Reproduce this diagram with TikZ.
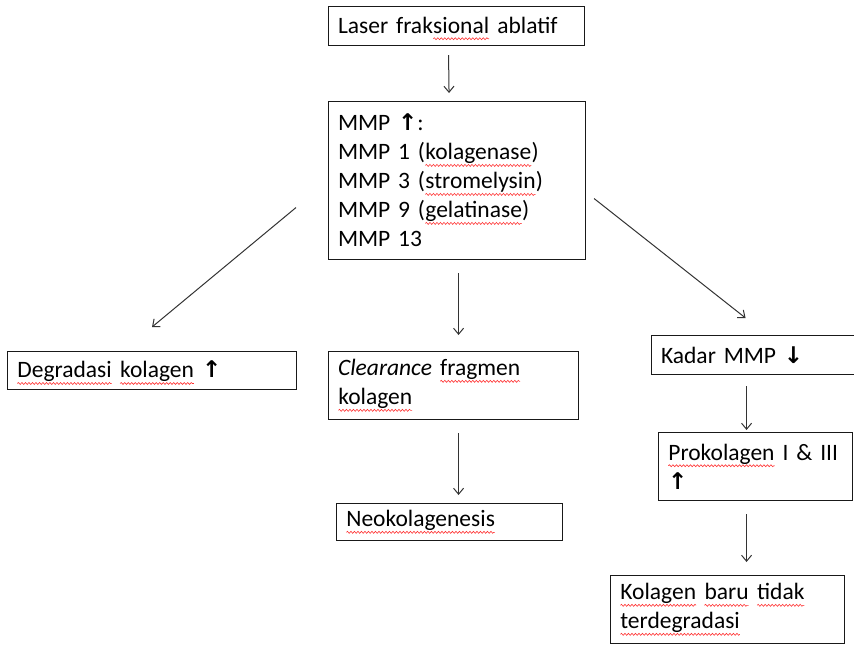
\documentclass[tikz,border=0pt]{standalone}
\usepackage{fontspec}
\setmainfont{Carlito}[WordSpace=0.85]
\newfontfamily\symfont{DejaVu Sans}
\usetikzlibrary{arrows.meta,decorations.pathmorphing}

% red wavy spell-check style underline under one word
\tikzset{
  plainword/.style={draw=none, inner sep=0pt, outer sep=0pt, minimum width=0pt,
    minimum height=0pt, text width=, align=none, anchor=base, font=},
}
\newcommand\spell[1]{\tikz[baseline=(sw.base), x=1pt, y=1pt]{%
  \node[plainword] (sw) {#1};
  \draw[red!80, line width=0.6pt, decorate,
        decoration={snake, amplitude=1pt, segment length=3.5pt}]
    ([yshift=-5.5pt]sw.base west) -- ([yshift=-5.5pt]sw.base east);}}
\newcommand\uparr{{\symfont\bfseries\fontsize{23}{29}\selectfont ↑}}
\newcommand\downarr{{\symfont\bfseries\fontsize{23}{29}\selectfont ↓}}

\tikzset{
  box/.style={draw=black!90, line width=1.1pt, anchor=north west, inner xsep=9.5pt,
    inner ysep=0pt, align=left, font=\fontsize{23.5}{29}\selectfont},
  arr/.style={draw=black!80, line width=1pt, -{Straight Barb[length=6pt,width=10pt]}},
}

\begin{document}
\begin{tikzpicture}[x=1pt,y=-1pt]
\useasboundingbox (0,0) rectangle (854,646);

\node[box, text width=237pt, minimum height=39pt, text depth=2pt] (laser) at (328,6)
  {Laser frak\spell{sional} ablatif};
\node[box, text width=238pt, minimum height=158pt] (mmp) at (328,101)
  {MMP \uparr:\\
   MMP 1 (\spell{kolagenase})\\
   MMP 3 (\spell{stromelysin})\\
   MMP 9 (\spell{gelatinase})\\
   MMP 13};
\node[box, text width=270pt, minimum height=38pt, text depth=2pt] (deg) at (7,351)
  {\spell{Degradasi} \spell{kolagen} \uparr};
\node[box, text width=231pt, minimum height=68pt] (clr) at (328,351)
  {\textit{Clearance} \spell{fragmen}\\ \spell{kolagen}};
\node[box, text width=207pt, minimum height=37pt] (neo) at (336,503)
  {\spell{Neokolagenesis}};
\node[box, text width=186pt, minimum height=39pt] (kadar) at (651,335)
  {Kadar MMP \downarr};
\node[box, text width=175pt, minimum height=68pt] (pro) at (658,432)
  {\spell{Prokolagen} I \& III\\ \uparr};
\node[box, text width=215pt, minimum height=68pt] (kol) at (610,575)
  {\spell{Kolagen} \spell{baru} \spell{tidak}\\ \spell{terdegradasi}};

\draw[arr] ([xshift=-8pt,yshift=-9pt]laser.south) -- ([xshift=-8pt,yshift=8pt]mmp.north);
\draw[arr] ([xshift=1.5pt,yshift=-13pt]mmp.south) -- ([xshift=5pt,yshift=16pt]clr.north);
\draw[arr] ([xshift=5pt,yshift=-13pt]clr.south) -- ([xshift=9pt,yshift=8pt]neo.north);
\draw[arr] ([xshift=-32pt,yshift=-27pt]mmp.west) -- ([yshift=24pt]deg.north);
\draw[arr] ([xshift=8pt,yshift=-18pt]mmp.east) -- ([xshift=-8.5pt,yshift=17pt]kadar.north);
\draw[arr] ([xshift=-7.5pt,yshift=-11pt]kadar.south) -- ([xshift=-9pt,yshift=2pt]pro.north);
\draw[arr] ([xshift=-9pt,yshift=-13pt]pro.south) -- ([xshift=19pt,yshift=13pt]kol.north);
\end{tikzpicture}
\end{document}
